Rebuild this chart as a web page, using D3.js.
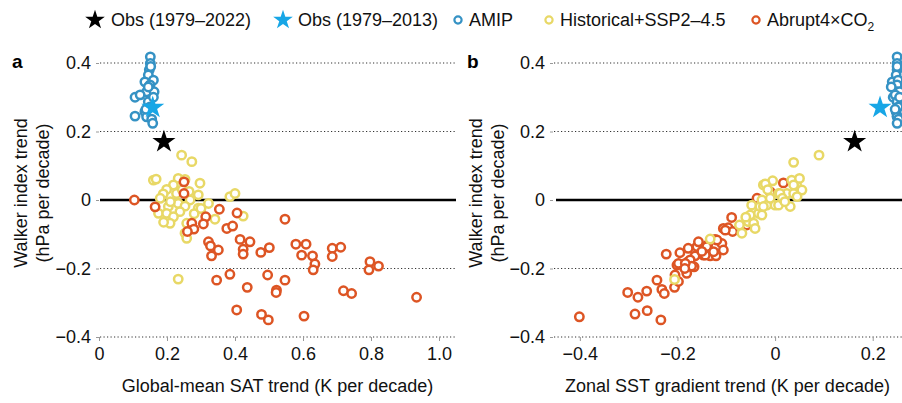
<!DOCTYPE html>
<html><head><meta charset="utf-8">
<script src="https://cdn.jsdelivr.net/npm/d3@7"></script>
<style>
html,body{margin:0;padding:0;background:#fff;}
svg{display:block;font-family:"Liberation Sans",Arial,Helvetica,sans-serif;}
</style></head>
<body>
<svg id="chart" width="902" height="403"></svg>
<script>
// ---------------- DATA ----------------
const legendLabels = ["Obs (1979–2022)", "Obs (1979–2013)", "AMIP", "Historical+SSP2–4.5", "Abrupt4×CO"];
const yTicks = [-0.4, -0.2, 0, 0.2, 0.4];
const xTicksA = [0, 0.2, 0.4, 0.6, 0.8, 1.0];
const xTicksB = [-0.4, -0.2, 0, 0.2];

// Observations: x in panel a, x in panel b, y
const obs2022 = {xa: 0.191, xb: 0.163, y: 0.170};
const obs2013 = {xa: 0.158, xb: 0.215, y: 0.270};

// AMIP
const amipY  = [0.418,0.399,0.380,0.365,0.345,0.350,0.336,0.316,0.316,0.300,0.307,0.287,0.272,0.258,0.245,0.243,0.236,0.224,0.330,0.300,0.390,0.265];
const amipXa = [0.151,0.151,0.148,0.145,0.135,0.160,0.150,0.140,0.162,0.106,0.121,0.145,0.150,0.135,0.106,0.140,0.155,0.158,0.145,0.160,0.152,0.138];
const amipXb = [0.250,0.250,0.250,0.248,0.240,0.252,0.250,0.250,0.255,0.242,0.246,0.250,0.252,0.248,0.250,0.250,0.253,0.250,0.238,0.255,0.250,0.246];

// Historical + SSP2-4.5, panel a
const histXa = [0.243,0.273,0.160,0.168,0.233,0.253,0.297,0.219,0.199,0.189,0.292,0.385,0.400,0.228,0.268,0.322,0.233,0.253,0.204,0.292,0.175,0.199,0.238,0.219,0.341,0.424,0.209,0.258,0.253,0.258,0.233,0.180,0.210,0.245,0.280,0.300,0.190,0.265];
const histYa = [0.131,0.112,0.058,0.061,0.063,0.060,0.049,0.044,0.031,0.018,0.015,0.010,0.019,0.019,0.000,-0.010,-0.010,-0.018,-0.019,-0.024,-0.039,-0.039,-0.034,-0.049,-0.056,-0.047,-0.068,-0.068,-0.097,-0.112,-0.231,0.005,-0.005,0.030,-0.040,-0.025,-0.065,0.025];
// Historical + SSP2-4.5, panel b
const histXb = [-0.133,-0.206,-0.073,-0.068,-0.055,-0.044,-0.041,-0.051,-0.048,-0.034,-0.031,-0.027,-0.017,-0.010,-0.024,-0.005,0.000,0.007,0.024,0.034,0.038,0.031,0.044,0.038,0.090,-0.020,0.050,0.038,0.055,0.010,0.007,-0.024,-0.027,0.015,-0.015,0.020,-0.060,0.045];
const histYb = [-0.114,-0.232,-0.073,-0.097,-0.063,-0.068,-0.083,-0.044,-0.015,-0.039,-0.019,0.000,-0.015,0.005,0.044,0.056,-0.015,0.019,0.019,0.058,0.019,-0.019,0.044,0.110,0.131,0.047,0.063,0.044,0.029,0.019,-0.015,-0.019,-0.044,0.005,0.030,-0.005,-0.050,0.010];

// Abrupt 4xCO2, panel a
const abrXa = [0.104,0.250,0.250,0.165,0.354,0.406,0.547,0.314,0.273,0.307,0.279,0.260,0.376,0.393,0.415,0.444,0.322,0.328,0.351,0.331,0.424,0.424,0.476,0.501,0.346,0.385,0.436,0.496,0.547,0.522,0.521,0.579,0.609,0.596,0.628,0.635,0.630,0.686,0.711,0.686,0.797,0.822,0.794,0.405,0.478,0.498,0.603,0.719,0.743,0.934];
const abrYa = [0.000,0.053,0.019,-0.020,-0.027,-0.038,-0.056,-0.049,-0.068,-0.070,-0.085,-0.092,-0.083,-0.076,-0.115,-0.122,-0.122,-0.134,-0.146,-0.163,-0.144,-0.158,-0.153,-0.139,-0.234,-0.217,-0.255,-0.219,-0.234,-0.263,-0.270,-0.129,-0.129,-0.161,-0.163,-0.187,-0.204,-0.141,-0.138,-0.165,-0.180,-0.193,-0.204,-0.321,-0.334,-0.350,-0.339,-0.265,-0.273,-0.284];
// Abrupt 4xCO2, panel b
const abrXb = [-0.401,-0.287,-0.262,-0.234,-0.302,-0.281,-0.263,-0.242,-0.232,-0.227,-0.223,-0.206,-0.198,-0.205,-0.201,-0.181,-0.195,-0.178,-0.178,-0.166,-0.160,-0.157,-0.164,-0.147,-0.138,-0.133,-0.123,-0.121,-0.109,-0.106,-0.106,-0.096,-0.087,-0.089,-0.058,-0.037,-0.140,-0.119,-0.126,-0.143,-0.174,-0.198,-0.171,-0.184,-0.010,0.017,-0.102,-0.185,-0.150];
const abrYb = [-0.341,-0.333,-0.323,-0.350,-0.270,-0.284,-0.266,-0.234,-0.261,-0.273,-0.158,-0.255,-0.238,-0.219,-0.190,-0.214,-0.154,-0.141,-0.180,-0.195,-0.136,-0.122,-0.163,-0.161,-0.131,-0.163,-0.115,-0.163,-0.127,-0.146,-0.083,-0.081,-0.092,-0.051,-0.073,0.005,-0.136,-0.117,-0.151,-0.161,-0.175,-0.185,-0.193,-0.185,0.024,0.050,-0.088,-0.200,-0.150];

// ---------------- STYLE ----------------
const C = {amip:"#3592c4", hist:"#e8d866", abr:"#dd5524", obs2022:"#000", obs2013:"#17a6e6"};
const FS = 18;

const svg = d3.select("#chart");
const yS = d3.scaleLinear().domain([-0.4, 0.4]).range([337, 63]);
const xA = d3.scaleLinear().domain([0, 1.05]).range([99, 456]);
const xB = d3.scaleLinear().domain([-0.455, 0.26]).range([553, 902]);

const fmt = v => v === 0 ? "0" : d3.format(".1f")(v);

function panel(xS, cfg) {
  const g = svg.append("g");
  const [x0, x1] = xS.range();
  g.selectAll("line.grid").data(yTicks.filter(v => v !== 0)).join("line")
    .attr("x1", x0 + 1).attr("x2", x1).attr("y1", d => yS(d)).attr("y2", d => yS(d))
    .attr("stroke", "#333").attr("stroke-width", 1.1).attr("stroke-dasharray", "1.2,2.3");
  const ya = g.append("g").attr("transform", `translate(${x0},0)`)
    .call(d3.axisLeft(yS).tickValues(yTicks).tickSize(3).tickPadding(5).tickFormat(fmt));
  ya.select(".domain").remove();
  ya.selectAll(".tick line").attr("stroke", "#999");
  ya.selectAll("text").attr("font-size", FS).attr("fill", "#111").attr("font-family", null);
  const xa = g.append("g").attr("transform", `translate(0,${yS(-0.4)})`)
    .call(d3.axisBottom(xS).tickValues(cfg.xticks).tickSize(4).tickPadding(6).tickFormat(fmt));
  xa.select(".domain").remove();
  xa.selectAll(".tick line").attr("stroke", "#999");
  xa.selectAll("text").attr("font-size", FS).attr("fill", "#111").attr("font-family", null);
  g.append("line").attr("x1", x0 + cfg.zeroPad).attr("x2", x1).attr("y1", yS(0)).attr("y2", yS(0))
    .attr("stroke", "#000").attr("stroke-width", 2.6);
  g.append("text").attr("x", (x0 + x1) / 2).attr("y", 392).attr("text-anchor", "middle")
    .attr("font-size", FS).attr("fill", "#111").text(cfg.xtitle);
  const yt = g.append("text").attr("transform", `translate(${cfg.ytx},193) rotate(-90)`)
    .attr("text-anchor", "middle").attr("font-size", FS).attr("fill", "#111");
  yt.append("tspan").attr("x", 0).attr("dy", 0).text("Walker index trend");
  yt.append("tspan").attr("x", 0).attr("dy", 22).text("(hPa per decade)");
  g.append("text").attr("x", cfg.lx).attr("y", 68).attr("font-size", 19).attr("font-weight", "bold")
    .attr("fill", "#000").text(cfg.label);
  return g;
}

function circles(g, xs, ys, xS, color) {
  g.append("g").selectAll("circle").data(xs.map((x, i) => [x, ys[i]])).join("circle")
    .attr("cx", d => xS(d[0])).attr("cy", d => yS(d[1])).attr("r", 4.2)
    .attr("fill", "#fff").attr("stroke", color).attr("stroke-width", 2.5);
}
const star = d3.symbol().type(d3.symbolStar).size(165);
function starMark(g, x, y, color) {
  g.append("path").attr("d", star).attr("transform", `translate(${x},${y})`).attr("fill", color);
}

const gA = panel(xA, {xticks: xTicksA, zeroPad: 1, xtitle: "Global-mean SAT trend (K per decade)", ytx: 27, lx: 12, label: "a"});
circles(gA, amipXa, amipY, xA, C.amip);
circles(gA, histXa, histYa, xA, C.hist);
circles(gA, abrXa, abrYa, xA, C.abr);
starMark(gA, xA(obs2013.xa), yS(obs2013.y), C.obs2013);
starMark(gA, xA(obs2022.xa), yS(obs2022.y), C.obs2022);

const gB = panel(xB, {xticks: xTicksB, zeroPad: 3, xtitle: "Zonal SST gradient trend (K per decade)", ytx: 482, lx: 467, label: "b"});
circles(gB, abrXb, abrYb, xB, C.abr);
circles(gB, histXb, histYb, xB, C.hist);
circles(gB, amipXb, amipY, xB, C.amip);
starMark(gB, xB(obs2013.xb), yS(obs2013.y), C.obs2013);
starMark(gB, xB(obs2022.xb), yS(obs2022.y), C.obs2022);

// ---------------- LEGEND ----------------
const lg = svg.append("g");
const ly = 20;
const legendItems = [
  {type: "star", color: C.obs2022, mx: 95, tx: 111, label: legendLabels[0]},
  {type: "star", color: C.obs2013, mx: 283, tx: 298, label: legendLabels[1]},
  {type: "circle", color: C.amip, mx: 458, tx: 469, label: legendLabels[2]},
  {type: "circle", color: C.hist, mx: 549, tx: 560, label: legendLabels[3]},
  {type: "circle", color: C.abr, mx: 756, tx: 767, label: legendLabels[4], sub: "2"}
];
const lstar = d3.symbol().type(d3.symbolStar).size(120);
legendItems.forEach(it => {
  if (it.type === "star") {
    lg.append("path").attr("d", lstar).attr("transform", `translate(${it.mx},${ly})`).attr("fill", it.color);
  } else {
    lg.append("circle").attr("cx", it.mx).attr("cy", ly).attr("r", 3.6)
      .attr("fill", "#fff").attr("stroke", it.color).attr("stroke-width", 2.2);
  }
  const t = lg.append("text").attr("x", it.tx).attr("y", ly + 6).attr("font-size", FS).attr("fill", "#111").text(it.label);
  if (it.sub) t.append("tspan").attr("font-size", 12).attr("dy", 5).text(it.sub);
});
</script>
</body></html>
